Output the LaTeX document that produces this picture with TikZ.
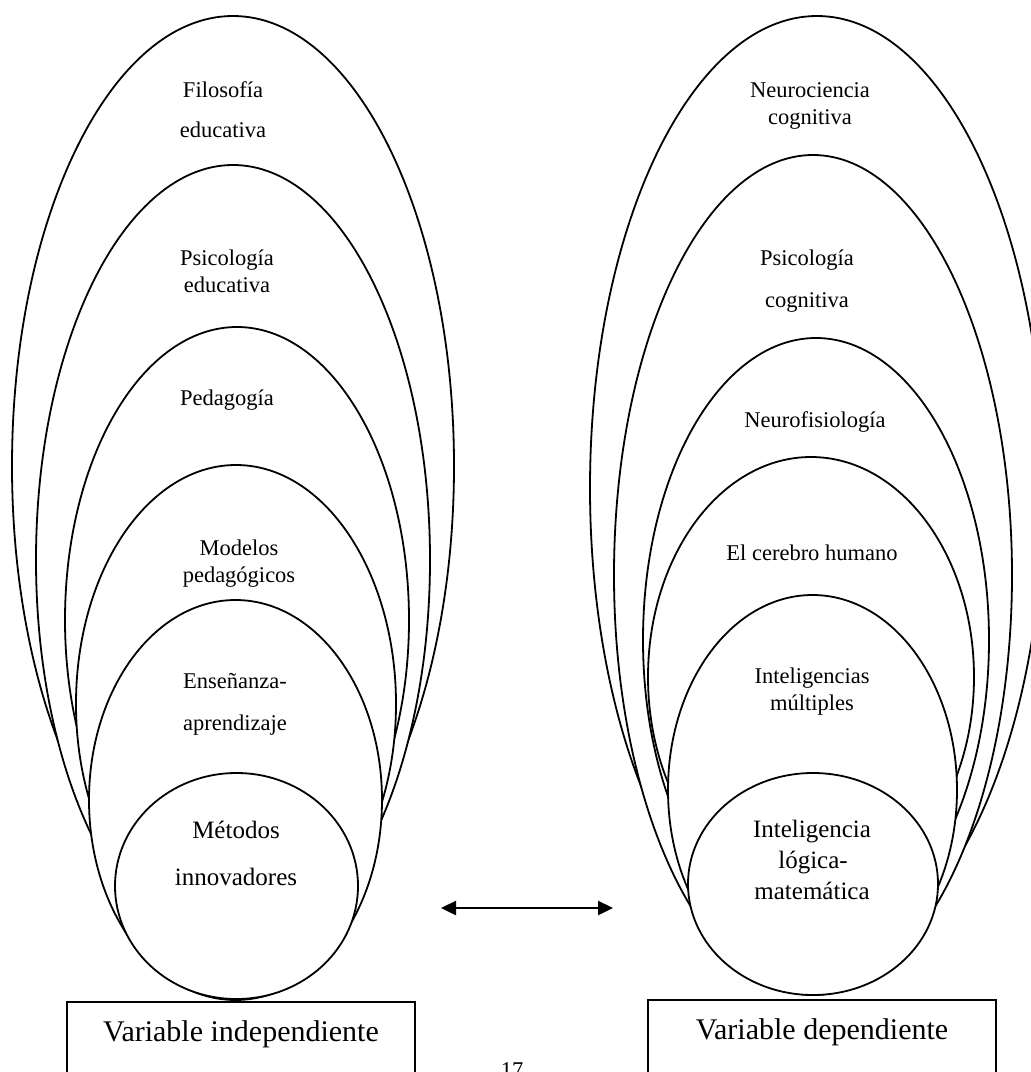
\documentclass[tikz,border=0pt]{standalone}
\usepackage{fontspec}
\setmainfont{Liberation Serif}
\usetikzlibrary{shapes.geometric,arrows.meta}

\begin{document}
\begin{tikzpicture}[x=1pt,y=-1pt,
  oval/.style={ellipse, draw, fill=white, line width=1.8pt, inner sep=0pt},
  lbl/.style={anchor=base, inner sep=0pt, font=\fontsize{22.5}{27}\selectfont},
  core/.style={anchor=base, inner sep=0pt, font=\fontsize{25}{30}\selectfont},
  varbox/.style={draw, line width=1.8pt, anchor=north, minimum width=348pt, inner ysep=19pt, text height=21pt, text depth=80pt, font=\fontsize{30}{36}\selectfont},
  tip/.tip={Triangle[length=15pt,width=14pt]}]
\useasboundingbox (0,0) rectangle (1031,1072);
\clip (0,0) rectangle (1031,1072);

\node[oval, minimum width=442pt, minimum height=900pt](filo) at (233,466) {};
\node[oval, minimum width=394pt, minimum height=790pt](psied) at (233,560) {};
\node[oval, minimum width=344pt, minimum height=586pt](peda) at (237,620) {};
\node[oval, minimum width=320pt, minimum height=478pt](model) at (236,704) {};
\node[oval, minimum width=293pt, minimum height=400pt](ensen) at (235.5,800) {};
\node[oval, minimum width=243pt, minimum height=226pt](metod) at (236.5,886) {};

\node[oval, minimum width=454pt, minimum height=944pt](neuro) at (817,488) {};
\node[oval, minimum width=398pt, minimum height=840pt](psicog) at (813,575) {};
\node[oval, minimum width=346pt, minimum height=604pt](nfisio) at (816,640) {};
\node[oval, minimum width=326pt, minimum height=440pt](cerebro) at (811,677) {};
\node[oval, minimum width=289pt, minimum height=390pt](intmul) at (812.5,790) {};
\node[oval, minimum width=250pt, minimum height=222pt](intlog) at (813,884) {};

\node[lbl](filoA) at (223,97) {Filosofía};
\node[lbl](filoB) at (223,137) {educativa};
\node[lbl](psiedA) at (227,265) {Psicología};
\node[lbl](psiedB) at (227,292) {educativa};
\node[lbl](pedaA) at (227,405) {Pedagogía};
\node[lbl](modelA) at (239,555) {Modelos};
\node[lbl](modelB) at (239,582) {pedagógicos};
\node[lbl](ensenA) at (235,688) {Enseñanza-};
\node[lbl](ensenB) at (235,730) {aprendizaje};
\node[core](metodA) at (236,838) {Métodos};
\node[core](metodB) at (236,885) {innovadores};

\node[lbl](neuroA) at (810,97) {Neurociencia};
\node[lbl](neuroB) at (810,124) {cognitiva};
\node[lbl](psicogA) at (807,265) {Psicología};
\node[lbl](psicogB) at (807,307) {cognitiva};
\node[lbl](nfisioA) at (815,427) {Neurofisiología};
\node[lbl](cerebroA) at (812,560) {El cerebro humano};
\node[lbl](intmulA) at (812,683) {Inteligencias};
\node[lbl](intmulB) at (812,710) {múltiples};
\node[core](intlogA) at (812,837) {Inteligencia};
\node[core](intlogB) at (813,868) {lógica-};
\node[core](intlogC) at (812,899) {matemática};

\node[varbox](indep) at (241,1001) {Variable independiente};
\node[varbox](dep) at (822,999) {Variable dependiente};

\coordinate (arrL) at (441,908);
\coordinate (arrR) at (613,908);
\draw[tip-tip, line width=2.4pt] (arrL) -- (arrR);

\node[lbl, anchor=north](pag) at (512,1062) {17};
\end{tikzpicture}
\end{document}
